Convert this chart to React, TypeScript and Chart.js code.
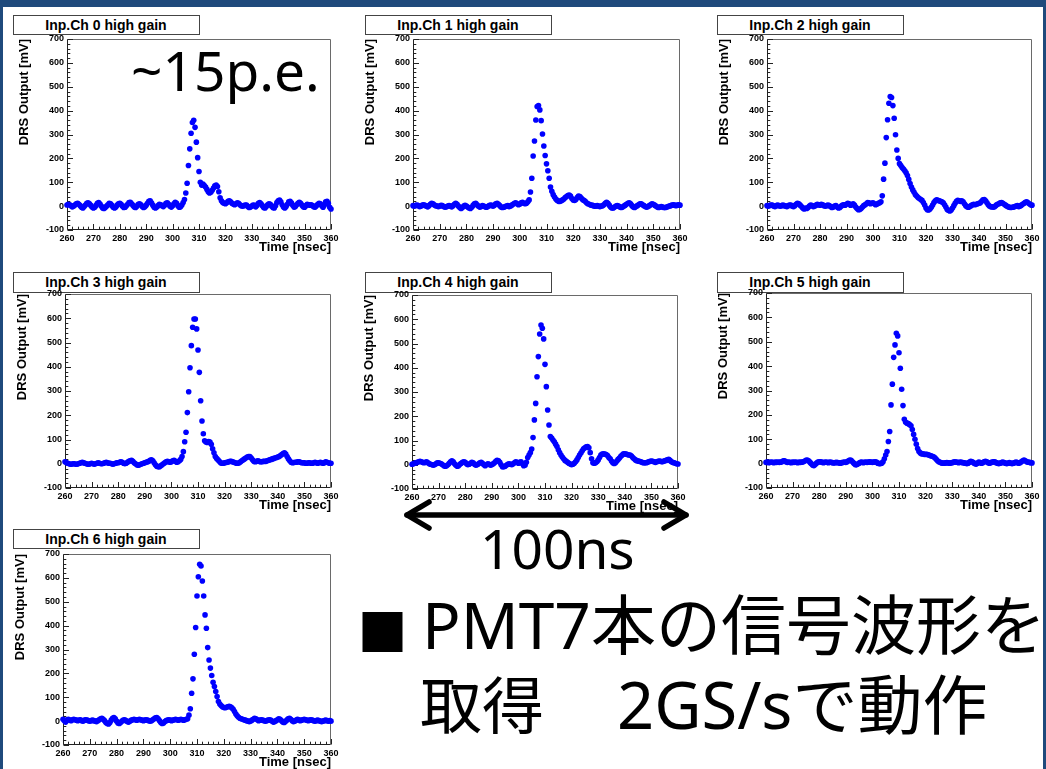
import React, { useEffect, useRef } from "react";
import { Chart, registerables } from "chart.js";

Chart.register(...registerables);

// ---------------- data ----------------
const TIME_START_NS = 260;
const TIME_STEP_NS = 0.5;

const CH0_MV = [
  5, 8, 6, 2, -3, 0, 5, 10, 12, 8,
  2, -5, -8, -2, 5, 12, 14, 10, 3, -4,
  -8, -5, 3, 12, 15, 9, 0, -8, -10, -6,
  0, 6, 12, 10, 3, -5, -8, -4, 4, 10,
  12, 8, 0, -6, -5, 2, 8, 15, 16, 10,
  3, -4, -6, 0, 8, 10, 6, -2, -6, -3,
  4, 12, 20, 22, 14, 4, -5, -8, -4, 2,
  8, 6, 2, -2, 4, 12, 14, 8, 0, -4,
  2, 10, 16, 12, 2, -5, -3, 5, 15, 28,
  55, 96, 170, 240, 305, 350, 360, 330, 268, 203,
  145, 100, 88, 92, 86, 80, 70, 60, 55, 58,
  66, 76, 85, 88, 82, 60, 35, 22, 15, 12,
  10, 14, 20, 22, 18, 12, 8, 6, 10, 14,
  12, 6, 2, 0, 2, 5, 4, -2, -6, -4,
  0, 5, 3, -3, 4, 12, 15, 10, 2, -6,
  -8, -2, 6, 10, 8, 0, -6, -8, 2, 15,
  22, 25, 18, 6, -4, -8, -2, 8, 18, 20,
  14, 4, -4, -2, 6, 12, 16, 12, 4, -3,
  -5, 2, 8, 6, 4, 6, 2, -3, -4, 2,
  8, 12, 10, 2, -5, 5, 18, 20, 12, -5,
  -12,
];

const CH1_MV = [
  2, 0, 3, 5, 2, -2, 0, 4, 6, 3,
  0, -3, 2, 8, 12, 10, 5, 2, 0, -2,
  0, 3, 2, -2, -4, -3, 0, 2, 0, -3,
  2, 8, 12, 8, 0, -6, -10, -6, 0, 3,
  0, -4, -8, -10, -5, 3, 10, 12, 6, 0,
  -4, -2, 2, 0, -3, -5, -2, 2, 5, 3,
  0, 4, 10, 12, 8, 2, -4, -6, -5, -2,
  0, 2, -2, 0, 4, 8, 12, 14, 10, 6,
  8, 14, 16, 12, 10, 12, 18, 26, 59, 117,
  210, 273, 361, 417, 421, 403, 358, 302, 252, 212,
  177, 148, 117, 80, 62, 48, 38, 30, 24, 20,
  20, 22, 26, 30, 36, 40, 44, 46, 42, 32,
  26, 24, 28, 36, 42, 40, 34, 28, 24, 20,
  14, 10, 8, 5, 4, 2, 0, 0, 2, 0,
  -2, 0, 2, 6, 12, 16, 12, 4, -4, -8,
  -8, -4, 0, 2, 0, -4, -6, -4, 0, 4,
  8, 12, 14, 10, 2, -4, -6, -2, 2, 6,
  10, 10, 6, 2, -2, -4, -2, 2, 6, 10,
  8, 4, 0, -4, -6, -4, -2, -4, -6, -6,
  -4, -2, 0, 2, 4, 6, 4, 2, 4, 6,
  4,
];

const CH2_MV = [
  2, 0, 3, 5, 4, 0, -2, 2, 4, 2,
  0, 2, 4, 2, 0, -2, 2, 5, 4, 0,
  -2, 2, 8, 12, 10, 4, -2, -8, -12, -8,
  -10, -6, 0, 4, 2, -2, 0, 4, 8, 6,
  4, 8, 6, 2, 0, 2, 4, 2, -2, -6,
  -4, 0, 2, -4, -8, -6, 0, 4, 6, 4,
  8, 12, 10, 4, 6, 10, 4, -4, -10, -15,
  -14, -10, -4, 2, 6, 10, 15, 14, 10, 12,
  14, 10, 6, 8, 12, 14, 18, 43, 113, 180,
  287, 362, 431, 459, 455, 421, 368, 299, 235, 200,
  178, 170, 162, 155, 148, 140, 128, 112, 95, 80,
  68, 58, 48, 42, 36, 32, 28, 24, 15, 5,
  -8, -15, -16, -12, -5, 5, 15, 22, 26, 24,
  22, 20, 18, 14, 6, -4, -14, -18, -20, -16,
  -8, 2, 12, 20, 24, 22, 20, 22, 18, 10,
  2, -3, -5, -2, 2, 6, 8, 6, 8, 10,
  12, 14, 20, 26, 28, 22, 14, 6, 0, -3,
  -3, -4, -2, 4, 8, 10, 14, 15, 12, 8,
  4, 0, -3, -5, -6, -5, -4, -2, 0, 2,
  -2, 0, 4, 8, 12, 16, 18, 14, 10, 6,
  4,
];

const CH3_MV = [
  8, 5, 2, 0, -2, -2, 0, 0, -2, -2,
  0, 2, 4, 6, 4, 2, 0, -2, -2, 0,
  2, 0, -2, 0, 2, 4, 2, 0, 0, 2,
  4, 6, 4, 2, 2, 0, -2, 0, 2, 4,
  4, 6, 8, 6, 2, 0, 2, 6, 10, 12,
  14, 10, 4, 0, -4, -6, -4, -2, 0, 2,
  4, 6, 8, 10, 14, 16, 12, 4, -4, -10,
  -12, -12, -8, -4, 0, 4, 8, 10, 8, 6,
  8, 12, 14, 10, 6, 8, 12, 18, 30, 50,
  91, 130, 211, 297, 396, 487, 563, 597, 597, 556,
  469, 377, 260, 176, 124, 95, 90, 88, 92, 90,
  80, 62, 45, 30, 22, 16, 10, 4, 2, 2,
  4, 5, 6, 8, 10, 10, 8, 6, 4, 2,
  2, 4, 8, 12, 16, 20, 24, 28, 30, 30,
  24, 16, 10, 8, 10, 12, 10, 8, 8, 10,
  10, 10, 12, 14, 16, 18, 20, 22, 24, 26,
  28, 30, 34, 38, 42, 45, 40, 30, 20, 12,
  6, 4, 5, 6, 6, 8, 8, 6, 4, 4,
  4, 2, 2, 4, 4, 2, 2, 4, 6, 4,
  2, 4, 6, 4, 2, 4, 8, 6, 4, 2,
  2,
];

const CH4_MV = [
  2, 4, 6, 8, 10, 12, 14, 12, 10, 8,
  10, 12, 8, 4, 2, 0, -2, 0, 4, 8,
  8, 6, 4, 0, -4, -6, -4, 0, 6, 12,
  16, 12, 4, -2, -6, -4, 2, 6, 10, 12,
  10, 4, 0, 2, 6, 10, 8, 2, -2, 0,
  4, 8, 10, 6, 0, -4, 0, 4, 2, -2,
  0, 4, 8, 14, 18, 16, 10, 0, -8, -8,
  -6, -2, 2, 4, 2, 0, 4, 8, 12, 10,
  6, 10, 12, 4, -4, -2, 10, 30, 40, 50,
  65, 112, 185, 253, 363, 446, 539, 576, 563, 519,
  414, 322, 226, 164, 116, 110, 102, 95, 85, 75,
  62, 50, 40, 32, 25, 18, 14, 10, 6, 3,
  0, 2, 6, 12, 20, 30, 40, 48, 58, 66,
  70, 74, 75, 70, 50, 25, 8, 6, 8, 12,
  20, 30, 40, 44, 45, 44, 42, 38, 30, 25,
  15, 8, 5, 8, 15, 22, 28, 35, 40, 45,
  45, 44, 42, 40, 40, 36, 30, 25, 20, 17,
  15, 14, 12, 10, 8, 8, 8, 10, 12, 14,
  15, 14, 12, 10, 12, 14, 15, 14, 12, 14,
  16, 18, 20, 22, 18, 12, 10, 8, 6, 4,
  3,
];

const CH5_MV = [
  5, 6, 4, 5, 6, 5, 4, 6, 5, 6,
  5, 6, 8, 12, 12, 8, 5, 6, 5, 4,
  6, 5, 6, 5, 4, 6, 5, 6, 8, 10,
  14, 15, 12, 6, 0, -6, -8, -4, 2, 6,
  8, 8, 6, 4, 5, 6, 5, 4, 6, 5,
  4, 3, 4, 5, 4, 3, 2, 4, 5, 6,
  5, 8, 12, 15, 14, 8, 2, -4, -5, -2,
  2, 5, 6, 4, 5, 6, 5, 6, 8, 6,
  5, 6, 8, 6, 2, 0, 0, 2, 8, 20,
  35, 50, 91, 132, 241, 326, 436, 487, 535, 524,
  455, 391, 305, 238, 182, 170, 166, 164, 160, 155,
  140, 120, 100, 80, 62, 50, 44, 40, 40, 38,
  38, 38, 36, 34, 32, 30, 28, 24, 18, 12,
  8, 5, 3, 2, 2, 3, 4, 3, 2, 3,
  4, 6, 8, 6, 5, 4, 6, 5, 4, 3,
  2, 0, 2, 6, 10, 8, 4, 0, -2, 2,
  6, 4, 2, 4, 8, 10, 8, 4, 2, 4,
  6, 8, 8, 4, 2, 0, 2, 4, 6, 4,
  2, 0, 2, 4, 2, 0, 2, 4, 6, 4,
  2, 4, 8, 12, 15, 12, 8, 6, 5, 4,
  3,
];

const CH6_MV = [
  8, 2, -4, 6, 8, 4, 2, 6, 8, 6,
  4, 2, 4, 6, 2, 0, 4, 6, 4, 2,
  0, 2, 4, 2, 0, -2, 2, 6, 10, 12,
  8, 2, -6, -10, -12, -6, 4, 12, 15, 10,
  0, -8, -10, -6, 0, 4, 6, 2, -2, -4,
  0, 4, 6, 8, 6, 4, 6, 8, 6, 4,
  2, 4, 6, 4, 2, 0, 2, 6, 10, 14,
  15, 10, 2, -6, -10, -8, -2, 2, 4, 6,
  4, 2, 4, 6, 8, 6, 4, 6, 8, 6,
  4, 6, 8, 10, 25, 52, 117, 177, 280, 392,
  524, 605, 657, 650, 587, 524, 445, 389, 308, 256,
  222, 191, 163, 145, 124, 103, 82, 72, 65, 60,
  57, 56, 58, 60, 62, 60, 56, 50, 40, 30,
  22, 16, 12, 10, 8, 6, 4, 2, 0, -2,
  0, 4, 8, 12, 10, 6, 2, 4, 6, 4,
  2, 0, 2, 4, 6, 4, 0, -4, -2, 2,
  6, 10, 8, 2, -4, -6, -2, 4, 10, 12,
  8, 2, -2, 0, 4, 8, 6, 2, 4, 6,
  8, 6, 4, 2, 4, 6, 4, 2, 0, 2,
  4, 2, 0, -2, 0, 2, 4, 2, 0, 2,
  0,
];

const CHANNEL_TITLES = [
  "Inp.Ch 0 high gain",
  "Inp.Ch 1 high gain",
  "Inp.Ch 2 high gain",
  "Inp.Ch 3 high gain",
  "Inp.Ch 4 high gain",
  "Inp.Ch 5 high gain",
  "Inp.Ch 6 high gain",
];
const X_TICK_LABELS = [260, 270, 280, 290, 300, 310, 320, 330, 340, 350, 360];
const Y_TICK_LABELS = [-100, 0, 100, 200, 300, 400, 500, 600, 700];
const X_MINOR_STEP = 2;
const Y_MINOR_STEP = 20;
const X_TITLE = "Time [nsec]";
const Y_TITLE = "DRS Output [mV]";

const NOTE_PE = "~15p.e.";
const NOTE_SPAN = "100ns";
const NOTE_LINE1_PARTS = ["■ ", "PMT7", "本の信号波形を"];
const NOTE_LINE2_PARTS = ["取得　", "2GS/s", "で動作"];

const SERIES = [CH0_MV, CH1_MV, CH2_MV, CH3_MV, CH4_MV, CH5_MV, CH6_MV];
const TIMES_NS = CH0_MV.map((_, i) => TIME_START_NS + i * TIME_STEP_NS);

// ---------------- layout / style ----------------
const PLOT_BOXES = [
  { l: 67, t: 39, r: 331, b: 230, tb: [13, 15, 186, 19] },
  { l: 413, t: 39, r: 680, b: 230, tb: [365, 15, 186, 19] },
  { l: 767, t: 39, r: 1032, b: 230, tb: [717, 15, 186, 19] },
  { l: 65, t: 294, r: 331, b: 488, tb: [13, 272, 186, 20] },
  { l: 412, t: 295, r: 678, b: 489, tb: [365, 272, 186, 20] },
  { l: 766, t: 293, r: 1032, b: 488, tb: [717, 272, 186, 20] },
  { l: 63, t: 554, r: 331, b: 745, tb: [13, 529, 186, 19] },
];
const Y_AXIS_W = 62;
const X_AXIS_H = 36;
const PAD_TOP = 12;
const PAD_RIGHT = 14;
const AX_FONT = "'Liberation Sans', Arial, Helvetica, sans-serif";
const JP_FONT = "'Noto Sans CJK JP', 'Noto Sans', sans-serif";
const LATIN_FONT = "'Noto Sans', 'Noto Sans CJK JP', sans-serif";
const MARKER = "#0000ff";
const SLIDE_BLUE = "#1f4a7c";

const rootFramePlugin = {
  id: "rootFrame",
  beforeDatasetsDraw(chart: any) {
    const { ctx, chartArea: a, scales } = chart;
    const xs = scales.x;
    const ys = scales.y;
    const L = Math.round(a.left) + 0.5;
    const T = Math.round(a.top) + 0.5;
    const R = Math.round(a.right) - 0.5;
    const B = Math.round(a.bottom) - 0.5;
    ctx.save();
    ctx.lineWidth = 1;
    ctx.strokeStyle = "#6a6a6a";
    ctx.beginPath();
    ctx.moveTo(L, T);
    ctx.lineTo(R, T);
    ctx.lineTo(R, B);
    ctx.stroke();
    ctx.strokeStyle = "#222";
    ctx.beginPath();
    ctx.moveTo(L, T);
    ctx.lineTo(L, B);
    ctx.lineTo(R, B);
    ctx.stroke();
    ctx.beginPath();
    const yMin = Y_TICK_LABELS[0];
    const yMax = Y_TICK_LABELS[Y_TICK_LABELS.length - 1];
    const yMajor = Y_TICK_LABELS[1] - Y_TICK_LABELS[0];
    for (let v = yMin; v <= yMax; v += Y_MINOR_STEP) {
      const p = Math.round(ys.getPixelForValue(v)) + 0.5;
      const len = (v - yMin) % yMajor === 0 ? 5.5 : 2.8;
      ctx.moveTo(L, p);
      ctx.lineTo(L + len, p);
    }
    const xMin = X_TICK_LABELS[0];
    const xMax = X_TICK_LABELS[X_TICK_LABELS.length - 1];
    const xMajor = X_TICK_LABELS[1] - X_TICK_LABELS[0];
    for (let v = xMin; v <= xMax; v += X_MINOR_STEP) {
      const p = Math.round(xs.getPixelForValue(v)) + 0.5;
      const len = (v - xMin) % xMajor === 0 ? 5.5 : 2.8;
      ctx.moveTo(p, B);
      ctx.lineTo(p, B - len);
    }
    ctx.stroke();
    ctx.restore();
  },
};

function zeroPad(s: any) {
  s.paddingLeft = 0;
  s.paddingRight = 0;
  s.paddingTop = 0;
  s.paddingBottom = 0;
}

function Panel({ idx }: { idx: number }) {
  const ref = useRef<HTMLCanvasElement | null>(null);
  const box = PLOT_BOXES[idx];
  const cw = box.r - box.l + Y_AXIS_W + PAD_RIGHT;
  const ch = box.b - box.t + PAD_TOP + X_AXIS_H;

  useEffect(() => {
    const values = SERIES[idx];
    const tickFont = { family: AX_FONT, size: 9, weight: "bold" as const };
    const titleFont = { family: AX_FONT, size: 13, weight: "bold" as const };
    const chart = new Chart(ref.current as HTMLCanvasElement, {
      type: "scatter",
      data: {
        datasets: [
          {
            data: values.map((v, i) => ({ x: TIMES_NS[i], y: v })),
            pointRadius: 2.8,
            pointHoverRadius: 2.8,
            pointBackgroundColor: MARKER,
            pointBorderColor: MARKER,
            pointBorderWidth: 0,
            showLine: false,
            clip: false as any,
          },
        ],
      },
      options: {
        animation: false,
        responsive: false,
        maintainAspectRatio: false,
        devicePixelRatio: 1,
        events: [],
        layout: { padding: { left: 0, top: PAD_TOP, right: PAD_RIGHT, bottom: 0 } },
        plugins: {
          legend: { display: false },
          tooltip: { enabled: false },
        },
        scales: {
          x: {
            type: "linear",
            position: "bottom",
            min: X_TICK_LABELS[0],
            max: X_TICK_LABELS[X_TICK_LABELS.length - 1],
            afterBuildTicks: (s: any) => {
              s.ticks = X_TICK_LABELS.map((value) => ({ value }));
            },
            ticks: {
              autoSkip: false,
              maxRotation: 0,
              minRotation: 0,
              padding: 3,
              color: "#000",
              font: tickFont,
            },
            grid: { display: false, drawTicks: false },
            border: { display: false },
            title: {
              display: true,
              text: X_TITLE,
              align: "end",
              color: "#000",
              font: titleFont,
              padding: { top: 0, bottom: 11 },
            },
            afterFit: (s: any) => {
              s.height = X_AXIS_H;
              zeroPad(s);
            },
          },
          y: {
            type: "linear",
            position: "left",
            min: Y_TICK_LABELS[0],
            max: Y_TICK_LABELS[Y_TICK_LABELS.length - 1],
            afterBuildTicks: (s: any) => {
              s.ticks = Y_TICK_LABELS.map((value) => ({ value }));
            },
            ticks: {
              autoSkip: false,
              padding: 3,
              color: "#000",
              font: tickFont,
            },
            grid: { display: false, drawTicks: false },
            border: { display: false },
            title: {
              display: true,
              text: Y_TITLE,
              align: "end",
              color: "#000",
              font: titleFont,
              padding: { top: 12, bottom: 0 },
            },
            afterFit: (s: any) => {
              s.width = Y_AXIS_W;
              zeroPad(s);
            },
          },
        },
      } as any,
      plugins: [rootFramePlugin],
    });
    return () => chart.destroy();
  }, [idx]);

  return (
    <canvas
      ref={ref}
      width={cw}
      height={ch}
      style={{
        position: "absolute",
        left: box.l - Y_AXIS_W,
        top: box.t - PAD_TOP,
        width: cw,
        height: ch,
        display: "block",
      }}
    />
  );
}

export default function App() {
  return (
    <div
      style={{
        position: "fixed",
        left: 0,
        top: 0,
        width: 1046,
        height: 769,
        background: "#ffffff",
        overflow: "hidden",
      }}
    >
      <svg
        width={1046}
        height={769}
        style={{ position: "absolute", left: 0, top: 0, pointerEvents: "none" }}
      >
        {PLOT_BOXES.map((b, i) => (
          <g key={i}>
            <rect
              x={b.tb[0] + 0.5}
              y={b.tb[1] + 0.5}
              width={b.tb[2]}
              height={b.tb[3]}
              fill="#fff"
              stroke="#444"
              strokeWidth={1}
            />
            <text
              x={b.tb[0] + b.tb[2] / 2}
              y={b.tb[1] + b.tb[3] / 2 + 5}
              textAnchor="middle"
              fontFamily={AX_FONT}
              fontWeight="bold"
              fontSize={14}
              fill="#000"
            >
              {CHANNEL_TITLES[i]}
            </text>
          </g>
        ))}
      </svg>
      {PLOT_BOXES.map((_, i) => (
        <Panel key={i} idx={i} />
      ))}
      <svg
        width={1046}
        height={769}
        style={{ position: "absolute", left: 0, top: 0, pointerEvents: "none" }}
      >
        <rect x={0} y={0} width={1046} height={7} fill={SLIDE_BLUE} />
        <rect x={0} y={0} width={3} height={769} fill={SLIDE_BLUE} />
        <rect x={1043} y={0} width={3} height={769} fill={SLIDE_BLUE} />
        <text x={131} y={91} fontFamily={LATIN_FONT} fontSize={55} fill="#000">
          {NOTE_PE}
        </text>
        <g stroke="#000" strokeWidth={5.5} fill="none" strokeLinecap="round" strokeLinejoin="round">
          <path d="M407 515 L686 515" />
          <path d="M429 502 L407 515 L429 528" />
          <path d="M664 502 L686 515 L664 528" />
        </g>
        <text x={480} y={569} fontFamily={LATIN_FONT} fontSize={55} fill="#000">
          {NOTE_SPAN}
        </text>
        <text fill="#000" xmlSpace="preserve">
          <tspan x={357.5} y={651} fontFamily={JP_FONT} fontSize={50}>
            {NOTE_LINE1_PARTS[0]}
          </tspan>
          <tspan x={422} y={649} fontFamily={LATIN_FONT} fontSize={64}>
            {NOTE_LINE1_PARTS[1]}
          </tspan>
          <tspan fontFamily={JP_FONT} fontSize={65}>
            {NOTE_LINE1_PARTS[2]}
          </tspan>
        </text>
        <text fill="#000" xmlSpace="preserve">
          <tspan x={420} y={729} fontFamily={JP_FONT} fontSize={62}>
            {NOTE_LINE2_PARTS[0]}
          </tspan>
          <tspan x={617} y={729} fontFamily={LATIN_FONT} fontSize={65}>
            {NOTE_LINE2_PARTS[1]}
          </tspan>
          <tspan fontFamily={JP_FONT} fontSize={65}>
            {NOTE_LINE2_PARTS[2]}
          </tspan>
        </text>
      </svg>
    </div>
  );
}
